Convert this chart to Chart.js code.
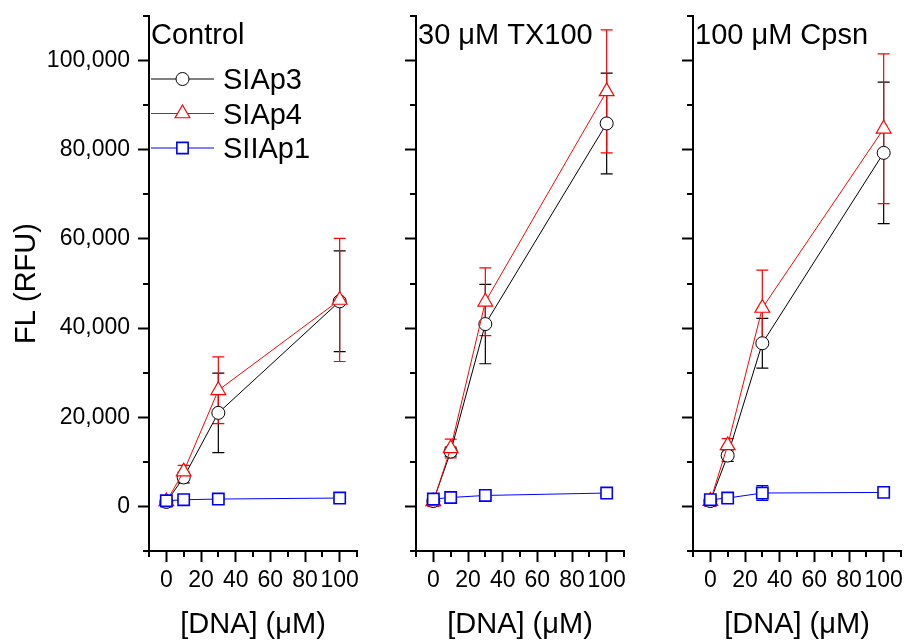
<!DOCTYPE html>
<html>
<head>
<meta charset="utf-8">
<script src="https://cdn.jsdelivr.net/npm/chart.js@4.4.1/dist/chart.umd.min.js"></script>
<style>
  body { margin: 0; background: #fff; }
  canvas { position: absolute; top: 0; }
</style>
</head>
<body>
<canvas id="panel1" width="362" height="641" style="left:0"></canvas>
<canvas id="panel2" width="228" height="641" style="left:401px"></canvas>
<canvas id="panel3" width="228" height="641" style="left:678px"></canvas>
<script>
// x positions (DNA concentration, uM)
const doses = [0, 10, 30, 100];

const xTicks = [0, 20, 40, 60, 80, 100];
const xMinorTicks = [-10, 10, 30, 50, 70, 90, 110];
const yTicks = [0, 20000, 40000, 60000, 80000, 100000];
const yMinorTicks = [-10000, 10000, 30000, 50000, 70000, 90000, 110000];

const panelTitles = ['Control', '30 \u03bcM TX100', '100 \u03bcM Cpsn'];
const seriesNames = ['SIAp3', 'SIAp4', 'SIIAp1'];

// Control
const controlSIAp3 = [1000, 6500, 20980, 46000];
const controlSIAp3Err = [500, 1200, 8900, 11300];
const controlSIAp4 = [1100, 7800, 26050, 46300];
const controlSIAp4Err = [1200, 1400, 7500, 13800];
const controlSIIAp1 = [1270, 1500, 1650, 1880];
const controlSIIAp1Err = [300, 300, 300, 400];

// 30 uM TX100
const tx100SIAp3 = [1200, 12300, 40900, 85900];
const tx100SIAp3Err = [500, 1000, 8900, 11300];
const tx100SIAp4 = [1100, 13000, 45900, 93100];
const tx100SIAp4Err = [1100, 2100, 7600, 13800];
const tx100SIIAp1 = [1650, 2000, 2460, 3000];
const tx100SIIAp1Err = [700, 1200, 500, 600];

// 100 uM Cpsn
const cpsnSIAp3 = [1200, 11400, 36600, 79300];
const cpsnSIAp3Err = [500, 1300, 5600, 15850];
const cpsnSIAp4 = [1200, 13700, 44500, 84700];
const cpsnSIAp4Err = [1200, 1500, 8500, 16800];
const cpsnSIIAp1 = [1500, 1880, 3000, 3140];
const cpsnSIIAp1Err = [700, 800, 1650, 600];

const seriesStyles = [
  { color: '#000000', pointStyle: 'circle', radius: 6.5, pointWidth: 1, order: 3 },
  { color: '#ff0000', pointStyle: 'triangle', radius: 8.5, pointWidth: 1.2, order: 2 },
  { color: '#0000ff', pointStyle: 'rect', radius: 8, pointWidth: 1.6, order: 1 }
];

Chart.defaults.font.family = "'Liberation Sans', Arial, sans-serif";
Chart.defaults.color = '#000';

const errorBars = {
  id: 'errorBars',
  beforeDatasetsDraw(chart) {
    const { ctx, scales: { x, y } } = chart;
    ctx.save();
    chart.data.datasets.forEach(ds => {
      ctx.strokeStyle = ds.borderColor;
      ctx.lineWidth = 1.2;
      ds.data.forEach((p, j) => {
        const e = ds.errorBars[j];
        const px = x.getPixelForValue(p.x);
        const top = y.getPixelForValue(p.y + e);
        const bot = y.getPixelForValue(p.y - e);
        ctx.beginPath();
        ctx.moveTo(px, top); ctx.lineTo(px, bot);
        ctx.moveTo(px - 6, top); ctx.lineTo(px + 6, top);
        ctx.moveTo(px - 6, bot); ctx.lineTo(px + 6, bot);
        ctx.stroke();
      });
    });
    ctx.restore();
  }
};

const minorTicks = {
  id: 'minorTicks',
  afterDraw(chart) {
    const { ctx, chartArea: a, scales: { x, y } } = chart;
    ctx.save();
    ctx.strokeStyle = '#000';
    ctx.lineWidth = 2;
    ctx.beginPath();
    xMinorTicks.forEach(v => {
      const px = Math.round(x.getPixelForValue(v));
      ctx.moveTo(px, a.bottom); ctx.lineTo(px, a.bottom + 6);
    });
    yMinorTicks.forEach(v => {
      const py = Math.round(y.getPixelForValue(v));
      ctx.moveTo(a.left, py); ctx.lineTo(a.left - 6, py);
    });
    ctx.stroke();
    ctx.restore();
  }
};

const panelText = {
  id: 'panelText',
  afterDraw(chart, args, opts) {
    const { ctx, chartArea: a } = chart;
    ctx.save();
    ctx.fillStyle = '#000';
    ctx.font = "29px 'Liberation Sans', Arial, sans-serif";
    ctx.textBaseline = 'alphabetic';
    ctx.fillText(opts.title, a.left + 2, 44);
    if (opts.legend) {
      chart.data.datasets.forEach((ds, i) => {
        const st = seriesStyles[i];
        const ly = 79 + i * 34.5;
        ctx.strokeStyle = st.color;
        ctx.lineWidth = 1;
        ctx.beginPath();
        ctx.moveTo(a.left + 2, ly); ctx.lineTo(a.left + 65, ly);
        ctx.stroke();
        ctx.fillStyle = '#fff';
        ctx.lineWidth = st.pointWidth;
        Chart.helpers.drawPoint(ctx, { pointStyle: st.pointStyle, radius: st.radius, borderWidth: st.pointWidth, rotation: 0 }, a.left + 33.5, ly);
        ctx.fillStyle = '#000';
        ctx.fillText(ds.label, a.left + 74, ly + 10);
      });
    }
    ctx.restore();
  }
};

function makePanel(id, title, series, errs, first) {
  const datasets = series.map((vals, i) => {
    const st = seriesStyles[i];
    return {
      label: seriesNames[i],
      data: doses.map((d, j) => ({ x: d, y: vals[j] })),
      errorBars: errs[i],
      borderColor: st.color,
      borderWidth: 1,
      pointStyle: st.pointStyle,
      pointRadius: st.radius,
      pointBorderWidth: st.pointWidth,
      pointBorderColor: st.color,
      pointBackgroundColor: '#fff',
      tension: 0,
      fill: false,
      order: st.order
    };
  });

  new Chart(document.getElementById(id), {
    type: 'line',
    data: { datasets },
    plugins: [errorBars, minorTicks, panelText],
    options: {
      responsive: false,
      animation: false,
      devicePixelRatio: 1,
      layout: { autoPadding: false, padding: { top: 16, right: 5, left: 0, bottom: 0 } },
      plugins: {
        legend: { display: false },
        tooltip: { enabled: false },
        panelText: { title: title, legend: first }
      },
      scales: {
        x: {
          type: 'linear',
          min: -10,
          max: 110,
          afterBuildTicks: s => { s.ticks = xTicks.map(v => ({ value: v })); },
          afterFit: s => { s.height = 90; s.paddingLeft = 0; s.paddingRight = 0; },
          grid: { drawOnChartArea: false, drawTicks: true, tickLength: 11, tickWidth: 2, tickColor: '#000' },
          border: { display: true, color: '#000', width: 2 },
          ticks: { font: { size: 23 }, padding: 5, maxRotation: 0, autoSkip: false, color: '#000' },
          title: { display: true, text: '[DNA] (\u03bcM)', font: { size: 29 }, padding: { top: 0, bottom: -1 }, color: '#000' }
        },
        y: {
          type: 'linear',
          min: -10000,
          max: 110000,
          afterBuildTicks: s => { s.ticks = yTicks.map(v => ({ value: v })); },
          afterFit: s => { s.width = first ? 149 : 15; s.paddingTop = 0; s.paddingBottom = 0; },
          grid: { drawOnChartArea: false, drawTicks: true, tickLength: 11, tickWidth: 2, tickColor: '#000' },
          border: { display: true, color: '#000', width: 2 },
          ticks: {
            display: first,
            font: { size: 23 },
            padding: 8,
            color: '#000',
            callback: v => v.toLocaleString('en-US')
          },
          title: { display: first, text: 'FL (RFU)', font: { size: 29 }, padding: { top: 10, bottom: 0 }, color: '#000' }
        }
      }
    }
  });
}

makePanel('panel1', panelTitles[0],
  [controlSIAp3, controlSIAp4, controlSIIAp1],
  [controlSIAp3Err, controlSIAp4Err, controlSIIAp1Err], true);
makePanel('panel2', panelTitles[1],
  [tx100SIAp3, tx100SIAp4, tx100SIIAp1],
  [tx100SIAp3Err, tx100SIAp4Err, tx100SIIAp1Err], false);
makePanel('panel3', panelTitles[2],
  [cpsnSIAp3, cpsnSIAp4, cpsnSIIAp1],
  [cpsnSIAp3Err, cpsnSIAp4Err, cpsnSIIAp1Err], false);
</script>
</body>
</html>
